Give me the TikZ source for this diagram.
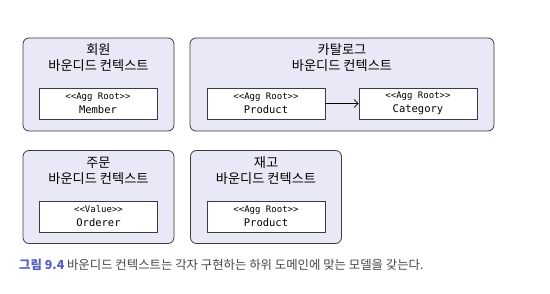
\documentclass[tikz,border=0pt]{standalone}
\usepackage{fontspec}
\setmainfont{Noto Sans CJK KR}
\setmonofont{DejaVu Sans Mono}
\usepackage{tikz}
\usetikzlibrary{arrows.meta}
\definecolor{ctxfill}{RGB}{232,232,246}
\definecolor{ctxline}{RGB}{60,60,60}
\definecolor{capblue}{RGB}{86,92,196}
\definecolor{capgray}{RGB}{70,70,70}

\begin{document}
\begin{tikzpicture}[x=1pt, y=-1pt,
      ctx/.style={draw=ctxline, fill=ctxfill, rounded corners=6pt, line width=0.8pt, minimum height=93pt},
      title/.style={align=center, font=\fontsize{13.2}{16}\selectfont, inner sep=0pt},
      agg/.style={draw=ctxline, fill=white, line width=0.7pt, minimum width=118pt, minimum height=31pt, inner sep=0pt, align=center, font=\ttfamily\fontsize{10.5}{14}\selectfont}]
      \useasboundingbox (0,0) rectangle (550,294);
      % bounded contexts
      \node (member) [ctx, minimum width=151pt] at (98.5,84.5) {};
      \node (catalog) [ctx, minimum width=304pt] at (342,84.5) {};
      \node (order) [ctx, minimum width=151pt] at (98.5,197) {};
      \node (stock) [ctx, minimum width=151pt] at (266,197) {};
      
      \node (memberT) [title] at (98.5,58) {회원\\바운디드 컨텍스트};
      \node (catalogT) [title] at (342,58) {카탈로그\\바운디드 컨텍스트};
      \node (orderT) [title] at (98.5,171) {주문\\바운디드 컨텍스트};
      \node (stockT) [title] at (266,171) {재고\\바운디드 컨텍스트};
      
      % models
      \node (memberM) [agg] at (98,103.5) {{\fontsize{9}{12}\selectfont <<Agg Root>>}\\Member};
      \node (productM) [agg] at (266,103.5) {{\fontsize{9}{12}\selectfont <<Agg Root>>}\\Product};
      \node (categoryM) [agg] at (418,103.5) {{\fontsize{9}{12}\selectfont <<Agg Root>>}\\Category};
      \node (ordererM) [agg] at (98.5,216.5) {{\fontsize{9}{12}\selectfont <<Value>>}\\Orderer};
      \node (stockM) [agg] at (266,216.5) {{\fontsize{9}{12}\selectfont <<Agg Root>>}\\Product};
      
      \draw[-{Straight Barb[length=4pt, width=8pt]}, line width=0.7pt] (productM) -- (categoryM);
      
      \node (caption) [anchor=west, inner sep=0pt, font=\fontsize{12.4}{15}\selectfont, text=capgray] at (19,265)
        {\textcolor{capblue}{\textbf{그림 9.4}} 바운디드 컨텍스트는 각자 구현하는 하위 도메인에 맞는 모델을 갖는다.};
    \end{tikzpicture}
\end{document}
